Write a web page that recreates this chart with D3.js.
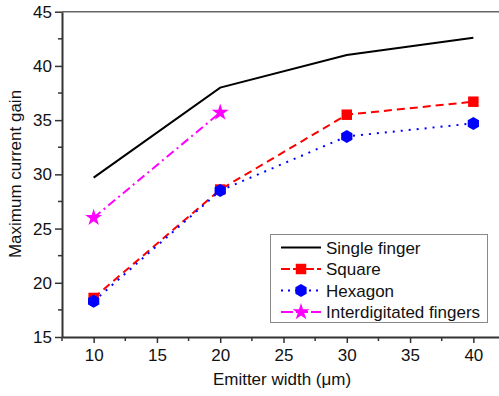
<!DOCTYPE html>
<html>
<head>
<meta charset="utf-8">
<script src="https://cdn.jsdelivr.net/npm/d3@7"></script>
<style>
  body { margin: 0; background: #fff; }
  svg { display: block; font-family: "Liberation Sans", Arial, sans-serif; }
</style>
</head>
<body>
<svg id="chart" width="499" height="396"></svg>
<script>
// emitter width (um)
var widths = [10, 20, 30, 40];
var widthsInter = [10, 20];

// maximum current gain per structure
var singleFinger = [29.7, 38.0, 41.0, 42.6];
var square = [18.6, 28.6, 35.5, 36.7];
var hexagon = [18.3, 28.5, 33.5, 34.7];
var interdigitated = [26.0, 35.7];

var seriesNames = ["Single finger", "Square", "Hexagon", "Interdigitated fingers"];
var xTicks = [10, 15, 20, 25, 30, 35, 40];
var yTicks = [15, 20, 25, 30, 35, 40, 45];

var svg = d3.select("#chart");
var plotLeft = 62, plotTop = 11.7, plotBottom = 337, plotRight = 505;

var x = d3.scaleLinear().domain([7.5, 42.5]).range([plotLeft, plotRight]);
var y = d3.scaleLinear().domain([15, 45]).range([plotBottom, plotTop]);

// top frame line
svg.append("line")
  .attr("x1", plotLeft).attr("x2", 499)
  .attr("y1", plotTop).attr("y2", plotTop)
  .attr("stroke", "#666").attr("stroke-width", 1.5);

// minor ticks
var xMinor = d3.range(7.5, 42.6, 2.5).filter(function(v){ return xTicks.indexOf(v) < 0; });
var yMinor = d3.range(17.5, 45, 5);

var gx = svg.append("g").attr("transform", "translate(0," + plotBottom + ")");
gx.call(d3.axisBottom(x).tickValues(xTicks).tickSize(6).tickSizeOuter(0).tickPadding(6));
gx.selectAll(".minor").data(xMinor).enter().append("line")
  .attr("x1", function(d){ return x(d); }).attr("x2", function(d){ return x(d); })
  .attr("y1", 0).attr("y2", 4);

var gy = svg.append("g").attr("transform", "translate(" + plotLeft + ",0)");
gy.call(d3.axisLeft(y).tickValues(yTicks).tickSize(7).tickSizeOuter(0).tickPadding(3));
gy.selectAll(".minor").data(yMinor).enter().append("line")
  .attr("x1", 0).attr("x2", -4)
  .attr("y1", function(d){ return y(d); }).attr("y2", function(d){ return y(d); });

[gx, gy].forEach(function(g) {
  g.select(".domain").attr("stroke", "#333").attr("stroke-width", 2);
  g.selectAll("line").attr("stroke", "#333").attr("stroke-width", 1.5);
  g.selectAll("text").attr("font-size", 17).attr("fill", "#111")
    .attr("font-family", "Liberation Sans, Arial, sans-serif");
});

// axis titles
svg.append("text")
  .attr("x", 282).attr("y", 385)
  .attr("text-anchor", "middle").attr("font-size", 17).attr("fill", "#111")
  .text("Emitter width (\u03bcm)");
svg.append("text")
  .attr("transform", "translate(21,174) rotate(-90)")
  .attr("text-anchor", "middle").attr("font-size", 17).attr("fill", "#111")
  .text("Maximum current gain");

var line = d3.line()
  .x(function(d){ return x(d[0]); })
  .y(function(d){ return y(d[1]); });

var series = [
  { name: seriesNames[0], xs: widths, ys: singleFinger, color: "#000", dash: null, legendDash: null, marker: null },
  { name: seriesNames[1], xs: widths, ys: square, color: "#ff0000", dash: "8,5", legendDash: "9,3", marker: d3.symbolSquare, size: 110 },
  { name: seriesNames[2], xs: widths, ys: hexagon, color: "#0000ff", dash: "2,6", legendDash: "2,5", marker: "hex", size: 6.5 },
  { name: seriesNames[3], xs: widthsInter, ys: interdigitated, color: "#ff00ff", dash: "9,4,2,4", legendDash: "12,3", marker: d3.symbolStar, size: 90 }
];

function hexPath(r) {
  var pts = d3.range(6).map(function(i) {
    var a = Math.PI / 6 + i * Math.PI / 3;
    return [r * Math.cos(a), r * Math.sin(a)];
  });
  return "M" + pts.join("L") + "Z";
}

function drawMarker(g, s, cx, cy) {
  if (!s.marker) return;
  var p = s.marker === "hex" ? hexPath(s.size) : d3.symbol().type(s.marker).size(s.size)();
  g.append("path").attr("d", p)
    .attr("transform", "translate(" + cx + "," + cy + ")")
    .attr("fill", s.color);
}

series.forEach(function(s) {
  var pts = s.xs.map(function(v, i){ return [v, s.ys[i]]; });
  svg.append("path").datum(pts)
    .attr("d", line)
    .attr("fill", "none")
    .attr("stroke", s.color)
    .attr("stroke-width", 2)
    .attr("stroke-dasharray", s.dash);
  var g = svg.append("g");
  pts.forEach(function(p){ drawMarker(g, s, x(p[0]), y(p[1])); });
});

// legend
var lg = svg.append("g");
lg.append("rect")
  .attr("x", 270.5).attr("y", 234.5).attr("width", 217).attr("height", 88)
  .attr("fill", "#fff").attr("stroke", "#888").attr("stroke-width", 1);
series.forEach(function(s, i) {
  var ly = 247.5 + i * 21.5;
  lg.append("line")
    .attr("x1", 281).attr("x2", 321).attr("y1", ly).attr("y2", ly)
    .attr("stroke", s.color).attr("stroke-width", 2)
    .attr("stroke-dasharray", s.legendDash);
  drawMarker(lg, s, 301, ly);
  lg.append("text")
    .attr("x", 326).attr("y", ly + 6)
    .attr("font-size", 17).attr("fill", "#111")
    .text(s.name);
});
</script>
</body>
</html>
